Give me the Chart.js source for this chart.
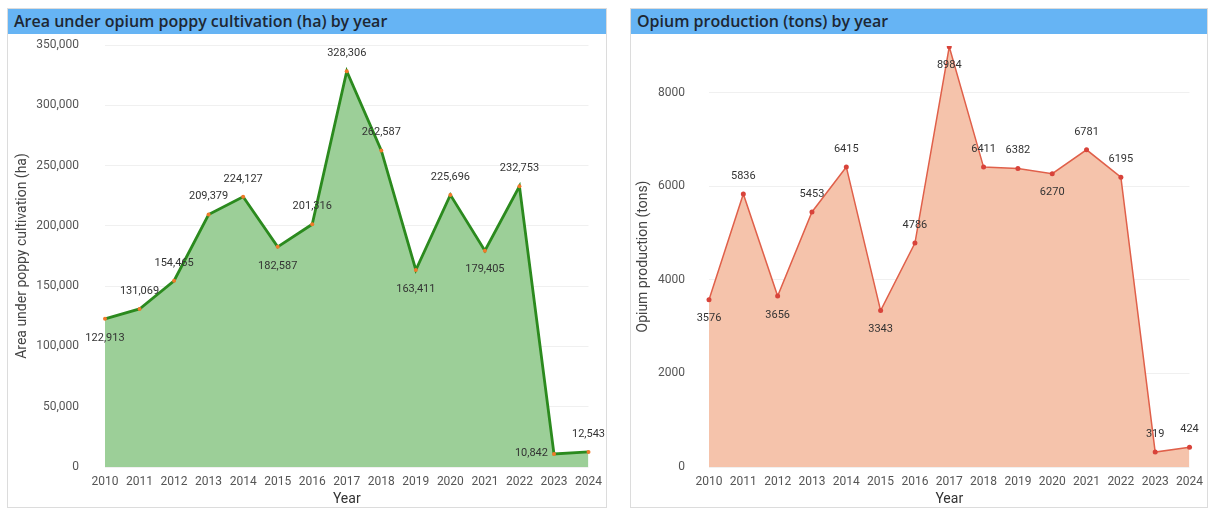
<!DOCTYPE html>
<html>
<head>
<meta charset="utf-8">
<script src="https://cdn.jsdelivr.net/npm/chart.js@4.4.1/dist/chart.umd.min.js"></script>
<style>
  body { margin: 0; background: #fff; width: 1210px; height: 511px; position: relative; overflow: hidden; font-family: "Open Sans", sans-serif; }
  .panel { position: absolute; top: 8px; height: 500px; border: 1px solid #dcdcdc; box-sizing: border-box; }
  .bar { position: absolute; left: 0; top: 0; right: 0; height: 25px; background: #66b4f4; color: #1d2733;
         font-size: 16px; font-weight: 600; line-height: 25px; padding-left: 6px; white-space: nowrap; }
  .box { position: absolute; left: 0; top: 25px; }
</style>
</head>
<body>

<div class="panel" id="panel-area" style="left:7px; width:600px;">
  <div class="bar">Area under opium poppy cultivation (ha) by year</div>
  <div class="box" style="width:598px; height:474px;"><canvas id="chart-area"></canvas></div>
</div>

<div class="panel" id="panel-prod" style="left:630px; width:578px;">
  <div class="bar">Opium production (tons) by year</div>
  <div class="box" style="width:576px; height:474px;"><canvas id="chart-prod"></canvas></div>
</div>

<script>
// DATA
const years = ["2010","2011","2012","2013","2014","2015","2016","2017","2018","2019","2020","2021","2022","2023","2024"];
const areaHa = [122913, 131069, 154465, 209379, 224127, 182587, 201316, 328306, 262587, 163411, 225696, 179405, 232753, 10842, 12543];
const productionTons = [3576, 5836, 3656, 5453, 6415, 3343, 4786, 8984, 6411, 6382, 6270, 6781, 6195, 319, 424];
const areaTicks = [0, 50000, 100000, 150000, 200000, 250000, 300000, 350000];
const prodTicks = [0, 2000, 4000, 6000, 8000];

// where each value label sits relative to its point
const areaLabelPos = ["below","above","above","above","above","below","above","above","above","below","above","below","above","left","above"];
const prodLabelPos = ["below","above","below","above","above","below","above","below","above","above","below","above","above","above","above"];

const fmtComma = v => Number(v).toLocaleString("en-US");

// DATA LABEL PLUGIN
const pointLabels = {
  id: "pointLabels",
  afterDatasetsDraw(chart, args, opts) {
    const ctx = chart.ctx;
    const meta = chart.getDatasetMeta(0);
    const data = chart.data.datasets[0].data;
    ctx.save();
    ctx.font = "11px Roboto, sans-serif";
    ctx.fillStyle = "#333";
    ctx.textBaseline = "middle";
    meta.data.forEach((pt, i) => {
      const pos = opts.positions[i];
      const txt = opts.format(data[i]);
      let x = pt.x, y = pt.y;
      ctx.textAlign = "center";
      if (pos === "above") y -= 18;
      else if (pos === "below") y += 19;
      else if (pos === "left") { ctx.textAlign = "right"; x -= 6; y -= 1; }
      ctx.fillText(txt, x, y);
    });
    ctx.restore();
  }
};

function makeChart(id, cfg) {
  const ctx = document.getElementById(id).getContext("2d");
  return new Chart(ctx, {
    type: "line",
    data: {
      labels: years,
      datasets: [{
        data: cfg.values,
        borderColor: cfg.line,
        borderWidth: cfg.lineWidth,
        backgroundColor: cfg.fill,
        fill: "origin",
        tension: 0,
        pointRadius: cfg.pointRadius,
        pointBackgroundColor: cfg.point,
        pointBorderWidth: 0
      }]
    },
    options: {
      responsive: true,
      maintainAspectRatio: false,
      animation: false,
      layout: { padding: { top: cfg.padTop, right: 0, left: 0, bottom: 0 } },
      plugins: {
        legend: { display: false },
        tooltip: { enabled: false },
        pointLabels: { positions: cfg.positions, format: cfg.format }
      },
      scales: {
        x: {
          grid: { display: true, drawOnChartArea: false, drawTicks: true, tickLength: 4, tickColor: "transparent" },
          border: { display: false },
          ticks: { color: "#555", font: { family: "Roboto", size: 12 }, padding: 4, maxRotation: 0, autoSkip: false },
          title: { display: true, text: "Year", color: "#333", font: { family: "Roboto", size: 14 }, padding: { top: 0, bottom: 0 } },
          afterFit: s => { s.height = 41; }
        },
        y: {
          min: 0,
          max: cfg.max,
          afterBuildTicks: s => { s.ticks = cfg.ticks.map(v => ({ value: v })); },
          grid: { color: "rgba(0,0,0,0.06)", drawTicks: true, tickLength: cfg.tickGap, tickColor: "transparent" },
          border: { display: false },
          ticks: { color: "#555", font: { family: "Roboto", size: 12 }, padding: 2, callback: v => cfg.tickFmt(v) },
          title: { display: true, text: cfg.yTitle, color: "#444", font: { family: "Roboto", size: 14 }, padding: { top: cfg.titlePad, bottom: 0 } },
          afterFit: s => { s.width = cfg.yWidth; }
        }
      }
    },
    plugins: [pointLabels]
  });
}

makeChart("chart-area", {
  values: areaHa,
  line: "#2b8a1e",
  lineWidth: 2.8,
  fill: "#9ccf98",
  point: "#f07a2a",
  pointRadius: 2,
  positions: areaLabelPos,
  format: fmtComma,
  max: 350000,
  ticks: areaTicks,
  tickFmt: fmtComma,
  yTitle: "Area under poppy cultivation (ha)",
  padTop: 11,
  tickGap: 24,
  titlePad: 6,
  yWidth: 97
});

makeChart("chart-prod", {
  values: productionTons,
  line: "#e0604a",
  lineWidth: 1.5,
  fill: "#f5c3ab",
  point: "#d8433a",
  pointRadius: 2.5,
  positions: prodLabelPos,
  format: v => String(v),
  max: 9000,
  ticks: prodTicks,
  tickFmt: v => String(v),
  yTitle: "Opium production (tons)",
  padTop: 12,
  tickGap: 22,
  titlePad: 4,
  yWidth: 78
});
</script>
</body>
</html>
